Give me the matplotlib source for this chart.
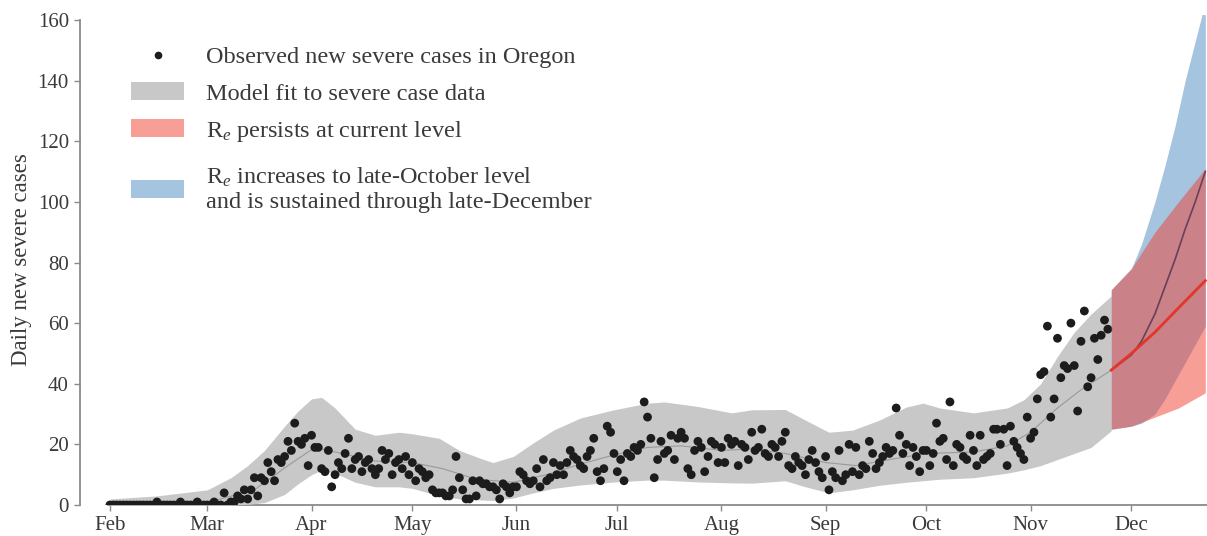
import datetime as dt

import matplotlib
matplotlib.use("Agg")
import matplotlib.pyplot as plt
import matplotlib.dates as mdates
import numpy as np
from matplotlib.lines import Line2D
from matplotlib.patches import Patch

plt.rcParams['font.family'] = ['Liberation Serif', 'DejaVu Serif']
plt.rcParams['mathtext.fontset'] = 'custom'
plt.rcParams['mathtext.rm'] = 'Liberation Serif'
plt.rcParams['mathtext.it'] = 'Liberation Serif:italic'

# ---------------- data ----------------
first_day = dt.date(2020, 2, 1)

obs_feb = [0, 0, 0, 0, 0, 0, 0, 0, 0, 0, 0, 0, 0, 0, 1, 0, 0, 0, 0, 0, 0, 1, 0, 0, 0, 0, 1, 0, 0]
obs_mar = [0, 0, 1, 0, 0, 4, 0, 1, 1, 3, 2, 5, 2, 5, 9, 3, 9, 8, 14, 11, 8, 15, 14, 16, 21, 18, 27, 21, 20, 22, 13]
obs_apr = [23, 19, 19, 12, 11, 18, 6, 10, 14, 12, 17, 22, 12, 15, 16, 11, 14, 15, 12, 10, 12, 18, 15, 17, 10, 14, 15, 12, 16, 10]
obs_may = [14, 8, 12, 11, 9, 10, 5, 4, 4, 4, 3, 3, 5, 16, 9, 5, 2, 2, 8, 3, 8, 7, 7, 6, 6, 5, 2, 7, 6, 4, 6]
obs_jun = [6, 11, 10, 8, 7, 8, 12, 6, 15, 8, 9, 14, 10, 13, 10, 14, 18, 16, 15, 13, 12, 16, 18, 22, 11, 8, 12, 26, 24, 17]
obs_jul = [11, 15, 8, 17, 16, 19, 18, 20, 34, 29, 22, 9, 15, 21, 17, 18, 23, 15, 22, 24, 22, 12, 10, 18, 21, 19, 11, 16, 21, 20, 14]
obs_aug = [19, 14, 22, 20, 21, 13, 20, 19, 15, 24, 18, 19, 25, 17, 16, 20, 19, 16, 21, 24, 13, 12, 16, 14, 13, 10, 15, 18, 14, 11, 9]
obs_sep = [16, 5, 11, 9, 18, 8, 10, 20, 11, 19, 10, 13, 12, 21, 17, 12, 14, 16, 19, 17, 18, 32, 23, 17, 20, 13, 19, 16, 11, 18]
obs_oct = [18, 13, 17, 27, 21, 22, 15, 34, 13, 20, 19, 16, 15, 23, 18, 13, 23, 15, 16, 17, 25, 25, 20, 25, 13, 26, 21, 19, 17, 15, 29]
obs_nov = [22, 24, 35, 43, 44, 59, 29, 35, 55, 42, 46, 45, 60, 46, 31, 54, 64, 39, 42, 55, 48, 56, 61, 58]

# model fit band (lower / upper) to the severe case data
fit_dates = ['2020-02-01', '2020-02-15', '2020-03-01', '2020-03-08', '2020-03-13', '2020-03-18',
             '2020-03-24', '2020-03-28', '2020-04-01', '2020-04-04', '2020-04-08', '2020-04-14',
             '2020-04-20', '2020-04-27', '2020-05-01', '2020-05-09', '2020-05-15', '2020-05-21',
             '2020-05-25', '2020-05-31', '2020-06-06', '2020-06-12', '2020-06-20', '2020-06-30',
             '2020-07-10', '2020-07-15', '2020-07-25', '2020-08-04', '2020-08-10', '2020-08-20',
             '2020-08-26', '2020-09-02', '2020-09-09', '2020-09-17', '2020-09-25', '2020-09-30',
             '2020-10-05', '2020-10-15', '2020-10-25', '2020-10-30', '2020-11-04', '2020-11-09',
             '2020-11-14', '2020-11-19', '2020-11-25']
fit_lower = [0, 0, 0, 0, 0.2, 0.8, 3.5, 7, 10, 11.5, 10.5, 7.5,
             6, 6, 5.5, 3, 2, 1.7, 1.5, 2.3, 4, 5.5, 6.6, 7.6,
             8.2, 8.2, 7.6, 7.3, 7.2, 8, 6, 4, 5, 6.5, 7.5, 8,
             8.5, 9, 10.5, 11.6, 13, 15, 17, 19, 24.5]
fit_upper = [2, 3, 5, 9, 13, 18, 26, 31, 35, 35.5, 32, 25,
             23, 24, 23.5, 22, 18, 15.5, 14, 16, 20.5, 24.7, 28.7, 31.4,
             33.6, 34, 32.5, 30.4, 31.4, 31.5, 28, 24, 24.7, 28, 32.3, 33.6,
             32, 30.4, 32, 34.7, 40, 49, 57, 63, 69]

median_dates = ['2020-02-01', '2020-03-01', '2020-03-15', '2020-03-25', '2020-04-02', '2020-04-10',
                '2020-04-20', '2020-05-01', '2020-05-10', '2020-05-20', '2020-05-31', '2020-06-10',
                '2020-06-20', '2020-06-30', '2020-07-10', '2020-07-20', '2020-08-01', '2020-08-10',
                '2020-08-20', '2020-09-01', '2020-09-10', '2020-09-20', '2020-10-01', '2020-10-15',
                '2020-10-25', '2020-11-01', '2020-11-09', '2020-11-16', '2020-11-25']
fit_median = [0.3, 0.8, 5, 13, 19, 17, 14.5, 14, 12, 8.5, 7.5, 10,
              13.5, 16.5, 19, 19.5, 18, 18.5, 17, 14, 13, 15, 17, 17.5,
              19.5, 24, 32, 38, 44.5]

# projection: R_e persists at current level
persist_dates = ['2020-11-25', '2020-12-01', '2020-12-08', '2020-12-15', '2020-12-23']
persist_lower = [25, 26, 29, 32, 37]
persist_median = [44.5, 50, 57, 65, 74]
persist_upper = [71, 78, 90, 100, 111]

# projection: R_e rises to the late-October level
rise_dates = ['2020-11-25', '2020-12-01', '2020-12-04', '2020-12-08', '2020-12-11',
              '2020-12-14', '2020-12-17', '2020-12-20', '2020-12-23']
rise_lower = [25, 26, 27, 30, 35, 41, 47, 53, 59]
rise_median = [44.5, 49.5, 54, 63, 72, 81, 91, 100, 110]
rise_upper = [71, 78, 86, 100, 112, 125, 140, 153, 166]

month_ticks = ['2020-02-01', '2020-03-01', '2020-04-01', '2020-05-01', '2020-06-01', '2020-07-01',
               '2020-08-01', '2020-09-01', '2020-10-01', '2020-11-01', '2020-12-01']
y_ticks = [0, 20, 40, 60, 80, 100, 120, 140, 160]

legend_labels = [
    'Observed new severe cases in Oregon',
    'Model fit to severe case data',
    'R$_e$ persists at current level',
    'R$_e$ increases to late-October level\nand is sustained through late-December',
]

# ---------------- plot ----------------
observed = obs_feb + obs_mar + obs_apr + obs_may + obs_jun + obs_jul + obs_aug + obs_sep + obs_oct + obs_nov
obs_dates = [first_day + dt.timedelta(days=i) for i in range(len(observed))]


def d64(seq):
    return np.array(seq, dtype='datetime64[D]')


W, H = 1207, 536
fig = plt.figure(figsize=(W / 100, H / 100), dpi=100)
ax = fig.add_axes([80 / W, 31 / H, (W - 80) / W, (H - 31 - 15) / H])

text_col = '#3a3a3a'
axis_col = '#8a8a8a'
dot_col = '#1c1c1c'
fit_col = '#c8c8c8'
red_col = '#f04030'
blue_col = '#4a8ac2'

ax.fill_between(d64(fit_dates), fit_lower, fit_upper, color=fit_col, lw=0, zorder=1)
ax.plot(d64(median_dates), fit_median, color='#9a9a9a', lw=0.8, zorder=2)
ax.scatter(obs_dates, observed, s=40, color=dot_col, edgecolors='none', zorder=3)

ax.fill_between(d64(rise_dates), rise_lower, rise_upper, color=blue_col, alpha=0.5, lw=0, zorder=4)
ax.fill_between(d64(persist_dates), persist_lower, persist_upper, color=red_col, alpha=0.5, lw=0, zorder=5)
ax.plot(d64(rise_dates), rise_median, color='#6b3f58', lw=1.2, zorder=6)
ax.plot(d64(persist_dates), persist_median, color='#e3352a', lw=2.0, zorder=7)

x0 = mdates.date2num(dt.datetime(2020, 2, 1))
ax.set_xlim(x0 - 8.9, x0 + 326.5)
ax.set_ylim(0, 161.65)

ax.set_xticks(d64(month_ticks))
ax.xaxis.set_major_formatter(mdates.DateFormatter('%b'))
ax.set_yticks(y_ticks)

for side in ('top', 'right'):
    ax.spines[side].set_visible(False)
ax.spines['left'].set_bounds(0, 160)
ax.spines['bottom'].set_bounds(x0 - 0.5, x0 + 326.5)
for side in ('left', 'bottom'):
    ax.spines[side].set_color(axis_col)
    ax.spines[side].set_linewidth(1.3)
    ax.spines[side].set_zorder(0)

ax.tick_params(axis='both', colors=axis_col, labelcolor=text_col, labelsize=15,
               length=4, width=1.0, direction='out')
ax.tick_params(axis='y', pad=4)
ax.tick_params(axis='x', pad=4)

ax.set_ylabel('Daily new severe cases', fontsize=16.5, color=text_col, labelpad=4)

handles = [
    Line2D([], [], marker='o', ls='', color=dot_col, markersize=4.5),
    Patch(facecolor=fit_col, edgecolor='none'),
    Patch(facecolor=red_col, alpha=0.5, edgecolor='none'),
    Patch(facecolor=blue_col, alpha=0.5, edgecolor='none'),
]

leg_kw = dict(loc='upper left', frameon=False, fontsize=17.5, handlelength=2.2,
              handleheight=0.74, handletextpad=0.9, borderpad=0, borderaxespad=0)
leg_top = fig.legend(handles[:3], legend_labels[:3], bbox_to_anchor=(131 / W, 1 - 46 / H),
                     labelspacing=0.58, **leg_kw)
leg_two = fig.legend(handles[3:], legend_labels[3:], bbox_to_anchor=(131 / W, 1 - 166 / H),
                     **leg_kw)
for lg in (leg_top, leg_two):
    for t in lg.get_texts():
        t.set_color(text_col)
        t.set_linespacing(1.17)

fig.savefig('out.png', dpi=100)
